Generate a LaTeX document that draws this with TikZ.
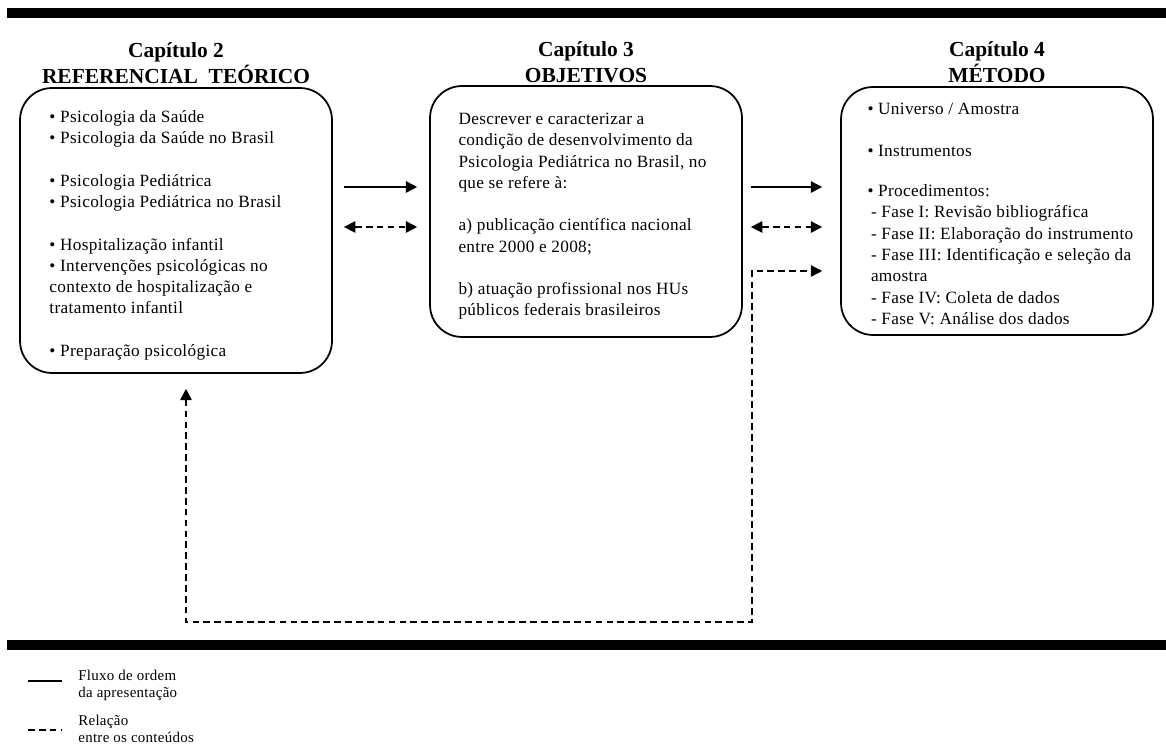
\documentclass[tikz,border=0pt]{standalone}
\usepackage{fontspec}
\setmainfont{Liberation Serif}
\usetikzlibrary{arrows.meta, positioning}
\tikzstyle{arrow} = [line width=0.9pt, -{Triangle[length=6.5pt,width=6.5pt]}]
\tikzstyle{relation} = [line width=0.9pt, dash pattern=on 3.8pt off 2.4pt, {Triangle[length=6.5pt,width=6.5pt]}-{Triangle[length=6.5pt,width=6.5pt]}]
\tikzstyle{chapbox} = [rectangle, rounded corners=0.64cm, minimum width=6.24cm, draw=black, line width=1pt]
\tikzstyle{chaptitle} = [align=center, inner sep=0pt, font=\fontsize{12.2}{14.8}\selectfont\bfseries]
\tikzstyle{boxtext} = [align=left, inner sep=0pt, font=\fontsize{9.8}{12.1}\selectfont\addfontfeature{LetterSpace=2}]
\tikzstyle{legendtext} = [align=left, anchor=west, inner sep=0pt, font=\fontsize{8.5}{9.3}\selectfont\addfontfeature{LetterSpace=2}]
\tikzstyle{bar} = [fill=black]

\begin{document}
\begin{tikzpicture}[x=0.02cm, y=-0.02cm]
        \useasboundingbox (0,0) rectangle (1166,746);
        \fill [bar] (7,8) rectangle (1166,18);
        \fill [bar] (7,640) rectangle (1166,650);

        \node (refbox) [chapbox, minimum height=5.7cm] at (176,230.5) {};
        \node (objbox) [chapbox, minimum height=5.02cm] at (586,211.5) {};
        \node (metbox) [chapbox, minimum height=4.96cm] at (997,211) {};

        \node (reftitle) [chaptitle, above=2pt of refbox] {Capítulo 2\\REFERENCIAL\ \ TEÓRICO};
        \node (objtitle) [chaptitle, above=0.9pt of objbox] {Capítulo 3\\OBJETIVOS};
        \node (mettitle) [chaptitle, above=2pt of metbox] {Capítulo 4\\MÉTODO};

        \node (reftext) [boxtext, right=0.6cm of refbox.west, yshift=-2.8pt] {• Psicologia da Saúde\\
            • Psicologia da Saúde no Brasil\\[12.1pt]
            • Psicologia Pediátrica\\
            • Psicologia Pediátrica no Brasil\\[12.1pt]
            • Hospitalização infantil\\
            • Intervenções psicológicas no\\
            contexto de hospitalização e\\
            tratamento infantil\\[12.1pt]
            • Preparação psicológica};
        \node (objtext) [boxtext, right=0.58cm of objbox.west, yshift=-2.8pt] {Descrever e caracterizar a\\
            condição de desenvolvimento da\\
            Psicologia Pediátrica no Brasil, no\\
            que se refere à:\\[12.1pt]
            a) publicação científica nacional\\
            entre 2000 e 2008;\\[12.1pt]
            b) atuação profissional nos HUs\\
            públicos federais brasileiros};
        \node (mettext) [boxtext, right=0.54cm of metbox.west, yshift=-1.5pt] {• Universo / Amostra\\[12.1pt]
            • Instrumentos\\[10.7pt]
            • Procedimentos:\\
            \hspace{2pt}- Fase I: Revisão bibliográfica\\
            \hspace{2pt}- Fase II: Elaboração do instrumento\\
            \hspace{2pt}- Fase III: Identificação e seleção da\\
            \hspace{2pt}amostra\\
            \hspace{2pt}- Fase IV: Coleta de dados\\
            \hspace{2pt}- Fase V: Análise dos dados};

        \coordinate (row1) at (0,187);
        \coordinate (row2) at (0,227);
        \coordinate (row3) at (0,271);
        \coordinate (loopL) at (186,622);
        \coordinate (loopR) at (752,622);

        \draw [arrow, shorten <=6.3pt, shorten >=6.8pt] (refbox.east |- row1) -- (objbox.west |- row1);
        \draw [relation, shorten <=6.3pt, shorten >=6.8pt] (refbox.east |- row2) -- (objbox.west |- row2);
        \draw [arrow, shorten <=4.6pt, shorten >=10.2pt] (objbox.east |- row1) -- (metbox.west |- row1);
        \draw [relation, shorten <=4.6pt, shorten >=10.2pt] (objbox.east |- row2) -- (metbox.west |- row2);
        \draw [relation, shorten <=8.5pt, shorten >=10.2pt] (refbox.south -| loopL) -- (loopL) -- (loopR) |- (metbox.west |- row3);

        \draw [line width=0.8pt] (28,681) -- (62,681);
        \draw [line width=0.8pt, dash pattern=on 3.8pt off 2.4pt] (28,730) -- (62,730);
        \node (flowlabel) [legendtext] at (78,685.5) {Fluxo de ordem\\da apresentação};
        \node (rellabel) [legendtext] at (78,729) {Relação\\entre os conteúdos};
    \end{tikzpicture}
\end{document}
